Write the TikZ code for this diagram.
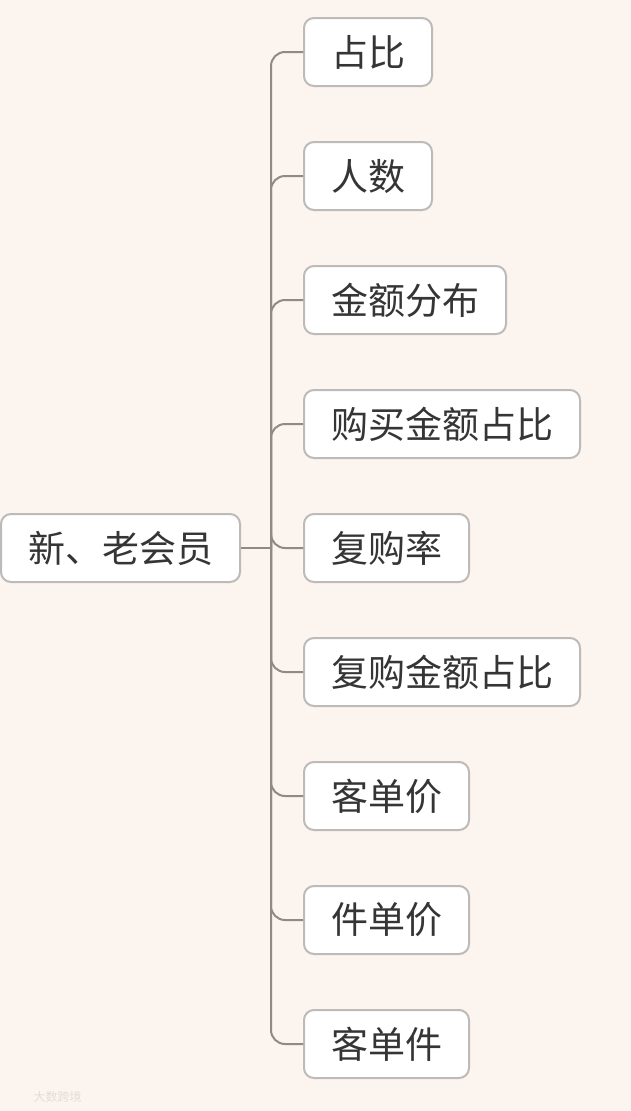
\documentclass[tikz,border=0pt]{standalone}
\usepackage{fontspec}
\setmainfont{Noto Sans CJK SC}
\usetikzlibrary{positioning}
\definecolor{bgpeach}{HTML}{FCF4EF}
\definecolor{boxline}{HTML}{BDBAB8}
\definecolor{branchline}{HTML}{8E8A88}
\definecolor{txtgray}{HTML}{353535}
\definecolor{markgray}{HTML}{E2DDDA}
\tikzset{
  topicbox/.style={draw=boxline, line width=2pt, fill=white, rounded corners=10pt,
    minimum height=68pt, inner xsep=27pt, text=txtgray,
    font=\fontsize{37}{37}\selectfont},
  branch/.style={draw=branchline, line width=2pt},
}
\begin{document}
\begin{tikzpicture}[x=1pt,y=-1pt]
  % background and page size
  \fill[bgpeach] (0,0) rectangle (631,1111);
  \useasboundingbox (0,0) rectangle (631,1111);
  % central topic
  \node[topicbox, anchor=west] (root) at (0,548) {新、老会员};
  \coordinate (junction) at (271,548);
  \draw[branch] (root.east) -- (junction);
  % sub topics
  \foreach \name/\txt [count=\i from 0] in {zhanbi/占比, renshu/人数, jefb/金额分布,
      gmzb/购买金额占比, fgl/复购率, fgzb/复购金额占比, kdj/客单价, jdj/件单价, kdjian/客单件} {
    \node[topicbox, anchor=west] (\name) at (303, 52+124*\i) {\txt};
    \draw[branch, rounded corners=14pt] (junction) |- (\name.west);
  }
  % watermark
  \node[text=markgray, font=\fontsize{12}{12}\selectfont, anchor=west] (mark) at (30,1097) {大数跨境};
\end{tikzpicture}
\end{document}
